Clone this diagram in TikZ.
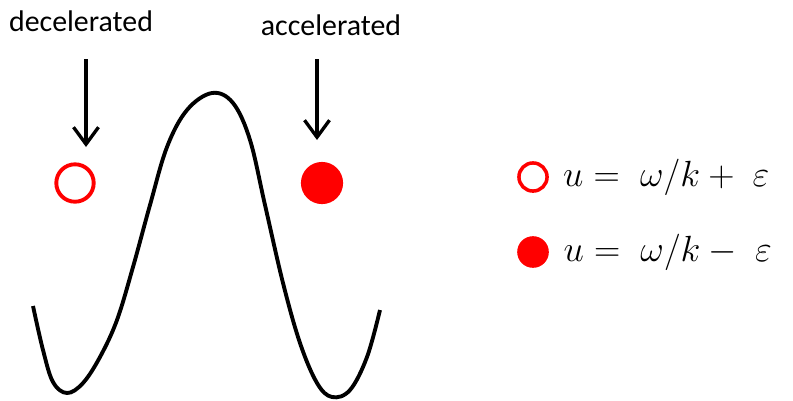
\documentclass[tikz,border=0pt]{standalone}
\usepackage{amsmath}
\usepackage{fontspec}
\setmainfont{Carlito}
\usetikzlibrary{arrows.meta,positioning}
\definecolor{cred}{RGB}{255,0,0}
\tikzset{
  lab/.style={font=\fontsize{17}{20}\selectfont,inner sep=0pt},
  eq/.style={font=\fontsize{22}{26}\selectfont,inner sep=0pt,anchor=west},
  arr/.style={-{Straight Barb[length=3.4mm,width=5mm]},line width=1.9pt},
  wave/.style={line width=2.2pt},
  hollow/.style={circle,draw=cred,line width=2.2pt,fill=white,inner sep=0pt},
  solid/.style={circle,fill=cred,draw=none,inner sep=0pt}
}
\begin{document}
\begin{tikzpicture}[x=0.02cm,y=-0.02cm]
\useasboundingbox (0,0) rectangle (793,400);
% ---------------- potential ----------------
\draw[wave] plot[smooth,tension=0.6] coordinates {(33,306) (43,350) (53,382)
  (67,393) (83,383) (100,357) (117,320) (133,267) (150,205) (167,147)
  (187,110) (212,93) (233,103) (250,140) (265,205) (283,283) (300,343)
  (317,383) (332,397) (350,390) (367,357) (380,310)};
% ---------------- particles ----------------
\node[hollow,minimum width=23.5pt-2.2pt,minimum height=22.5pt-2.2pt] (decpt) at (75,183) {};
\node[solid,minimum size=24pt] (accpt) at (322,183) {};
\node[lab] (declab) at (81,21) {decelerated};
\node[lab] (acclab) at (331,25) {accelerated};
\coordinate (dectop) at (86,59);  \coordinate (decend) at (86,147);
\coordinate (acctop) at (317,59); \coordinate (accend) at (317,140);
\draw[arr] (dectop) -- (decend);
\draw[arr] (acctop) -- (accend);
% ---------------- legend ----------------
\node[hollow,line width=2pt,minimum size=18pt-2pt] (keyslow) at (533,177) {};
\node[solid,minimum size=18pt] (keyfast) at (533,252) {};
\node[eq,right=8pt of keyslow] (eqslow) {$u=\;\omega/k+\;\varepsilon$};
\node[eq,right=8pt of keyfast] (eqfast) {$u=\;\omega/k-\;\varepsilon$};
\end{tikzpicture}
\end{document}
